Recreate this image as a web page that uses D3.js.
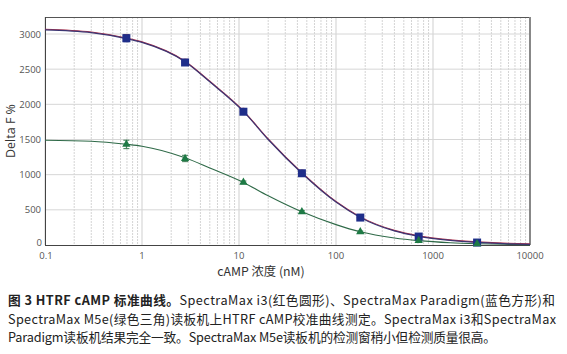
<!DOCTYPE html>
<html><head><meta charset="utf-8">
<script src="https://cdn.jsdelivr.net/npm/d3@7"></script>
<style>
body{margin:0;background:#fff;}
svg{display:block;}
</style></head>
<body>
<svg id="chart" width="567" height="354"></svg>
<script>
// concentrations (nM) of standards
const conc = [0.69, 2.78, 11.1, 44.5, 178, 712, 2848];
// SpectraMax Paradigm (blue squares)
const paradigm = [2940, 2595, 1895, 1020, 390, 120, 35];
const paradigmErr = [50, 35, 25, 20, 15, 10, 8];
// SpectraMax i3 (red circles) - overlapping blue
const i3 = [2945, 2600, 1900, 1025, 392, 122, 36];
const i3Err = [45, 40, 25, 20, 15, 10, 8];
// SpectraMax M5e (green triangles)
const m5e = [1430, 1230, 890, 472, 188, 62, 18];
const m5eErr = [60, 45, 20, 15, 10, 8, 6];
// fitted curves
const curveX = [0.1, 0.3, 0.69, 1, 2.78, 5, 11.1, 20, 44.5, 100, 178, 400, 712, 1500, 2848, 6000, 10000];
const curveBlue = [3060, 3020, 2935, 2880, 2605, 2320, 1900, 1500, 1020, 610, 392, 200, 122, 65, 36, 16, 10];
const curveGreen = [1490, 1475, 1432, 1405, 1240, 1095, 890, 700, 472, 290, 188, 100, 62, 32, 18, 9, 6];
const yTicks = [0, 500, 1000, 1500, 2000, 2500, 3000];
const xTicks = [0.1, 1, 10, 100, 1000, 10000];
const xTickLabels = ["0.1", "1", "10", "100", "1000", "10000"];
const captionLines = [
  "SpectraMax i3(红色圆形)、SpectraMax Paradigm(蓝色方形)和",
  "SpectraMax M5e(绿色三角)读板机上HTRF cAMP校准曲线测定。SpectraMax i3和SpectraMax",
  "Paradigm读板机结果完全一致。SpectraMax M5e读板机的检测窗稍小但检测质量很高。"
];

const svg = d3.select("#chart");
const L = 45, R = 530, T = 17, B = 245;
const x = d3.scaleLog().domain([0.1, 10000]).range([L, R]);
const y = d3.scaleLinear().domain([0, 3000]).range([B, 34]);

// minor vertical grid
const minors = [];
for (let e = -1; e < 4; e++) for (let m = 2; m <= 9; m++) minors.push(m * Math.pow(10, e));
svg.append("g").selectAll("line").data(minors).join("line")
  .attr("x1", d => x(d)).attr("x2", d => x(d)).attr("y1", T).attr("y2", B)
  .attr("stroke", "#d4d4d4").attr("stroke-width", 1).attr("stroke-dasharray", "2,1");
svg.append("g").selectAll("line").data(xTicks).join("line")
  .attr("x1", d => x(d)).attr("x2", d => x(d)).attr("y1", T).attr("y2", B)
  .attr("stroke", "#cfcfcf").attr("stroke-width", 1);
// horizontal grid
svg.append("g").selectAll("line").data(yTicks.slice(1)).join("line")
  .attr("x1", L).attr("x2", R).attr("y1", d => y(d)).attr("y2", d => y(d))
  .attr("stroke", "#d6d6d6").attr("stroke-width", 1);

// frame
svg.append("line").attr("x1", L).attr("x2", R).attr("y1", T + 0.5).attr("y2", T + 0.5).attr("stroke", "#555").attr("stroke-width", 1.2);
svg.append("line").attr("x1", R).attr("x2", R).attr("y1", T).attr("y2", B).attr("stroke", "#888").attr("stroke-width", 2);
svg.append("line").attr("x1", L + 0.5).attr("x2", L + 0.5).attr("y1", T).attr("y2", B).attr("stroke", "#444").attr("stroke-width", 1);
svg.append("line").attr("x1", L).attr("x2", R).attr("y1", B + 0.5).attr("y2", B + 0.5).attr("stroke", "#444").attr("stroke-width", 1);

// y tick labels
svg.append("g").selectAll("text").data(yTicks).join("text")
  .attr("x", d => d === 0 ? L - 3 : L - 4).attr("y", d => d === 0 ? y(d) + 1 : y(d) + 3.5).attr("text-anchor", "end")
  .attr("font-family", "Open Sans, sans-serif").attr("font-size", 9.5).attr("fill", "#555")
  .text(d => d);
// x tick labels
svg.append("g").selectAll("text").data(xTicks).join("text")
  .attr("x", (d, i) => i === 0 ? x(d) + 1 : x(d)).attr("y", B + 14).attr("text-anchor", "middle")
  .attr("font-family", "Open Sans, sans-serif").attr("font-size", 9.5).attr("fill", "#555")
  .text((d, i) => xTickLabels[i]);

// axis titles
svg.append("text").attr("transform", "translate(15," + 131 + ") rotate(-90)")
  .attr("text-anchor", "middle").attr("font-family", "Open Sans, sans-serif").attr("font-size", 12.5).attr("fill", "#333")
  .text("Delta F %");
svg.append("text").attr("x", 261).attr("y", 276).attr("text-anchor", "middle")
  .attr("font-family", "Noto Sans CJK SC, sans-serif").attr("font-size", 12.3).attr("fill", "#333")
  .text("cAMP 浓度 (nM)");

const line = d3.line().x(d => x(d[0])).y(d => y(d[1])).curve(d3.curveMonotoneX);
svg.append("path").attr("d", line(curveX.map((c, i) => [c, curveGreen[i]])))
  .attr("fill", "none").attr("stroke", "#2f6a48").attr("stroke-width", 1.1);
svg.append("path").attr("d", line(curveX.map((c, i) => [c, curveBlue[i] + 8])))
  .attr("fill", "none").attr("stroke", "#b0304a").attr("stroke-width", 1.1);
svg.append("path").attr("d", line(curveX.map((c, i) => [c, curveBlue[i]])))
  .attr("fill", "none").attr("stroke", "#3b3572").attr("stroke-width", 1.2);

function errBars(vals, errs, color) {
  const g = svg.append("g").attr("stroke", color).attr("stroke-width", 1);
  conc.forEach((c, i) => {
    const cx = x(c), y1 = y(vals[i] + errs[i]), y2 = y(vals[i] - errs[i]);
    g.append("line").attr("x1", cx).attr("x2", cx).attr("y1", y1).attr("y2", y2);
    g.append("line").attr("x1", cx - 3).attr("x2", cx + 3).attr("y1", y1).attr("y2", y1);
    g.append("line").attr("x1", cx - 3).attr("x2", cx + 3).attr("y1", y2).attr("y2", y2);
  });
}
errBars(i3, i3Err, "#c0504d");
errBars(paradigm, paradigmErr, "#2a3a8c");
errBars(m5e, m5eErr, "#3a7a50");

// i3 red circles
svg.append("g").selectAll("circle").data(conc).join("circle")
  .attr("cx", d => x(d)).attr("cy", (d, i) => y(i3[i])).attr("r", 3.5).attr("fill", "#c0392b");
// paradigm blue squares
svg.append("g").selectAll("rect").data(conc).join("rect")
  .attr("x", d => x(d) - 4).attr("y", (d, i) => y(paradigm[i]) - 4).attr("width", 8).attr("height", 8)
  .attr("fill", "#1f2e8a");
// m5e green triangles
svg.append("g").selectAll("path.tri").data(conc).join("path")
  .attr("transform", (d, i) => "translate(" + x(d) + "," + y(m5e[i]) + ")")
  .attr("d", d3.symbol().type(d3.symbolTriangle).size(30))
  .attr("fill", "#1e7a45");

// caption
const cap = svg.append("g").attr("font-family", "Noto Sans CJK SC, sans-serif").attr("font-size", 12.7).attr("fill", "#222");
const t1 = cap.append("text").attr("x", 8).attr("y", 305).attr("textLength", 547).attr("lengthAdjust", "spacing");
t1.append("tspan").attr("font-weight", "bold").text("图 3  HTRF cAMP 标准曲线。");
t1.append("tspan").text(captionLines[0]);
cap.append("text").attr("x", 8).attr("y", 323.5).attr("textLength", 548).attr("lengthAdjust", "spacing").text(captionLines[1]);
cap.append("text").attr("x", 8).attr("y", 342).attr("textLength", 488).attr("lengthAdjust", "spacing").text(captionLines[2]);
</script>
</body></html>
